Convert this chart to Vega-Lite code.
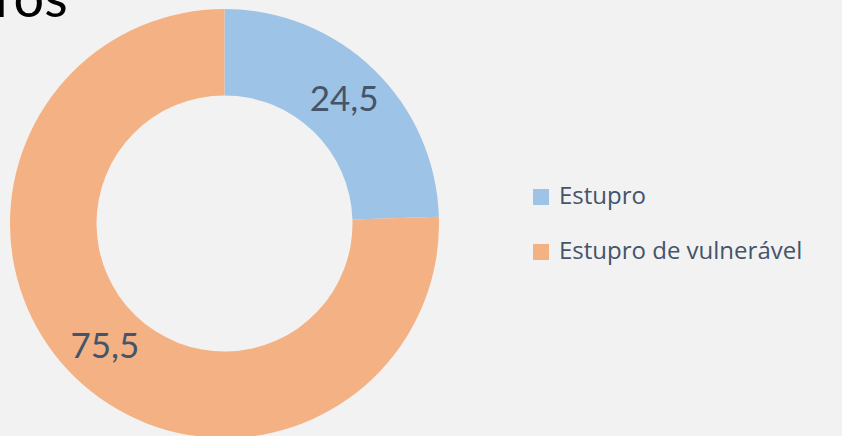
{
  "$schema": "https://vega.github.io/schema/vega-lite/v6.json",
  "width": 449,
  "height": 447,
  "autosize": {"type": "none"},
  "padding": {"left": 0, "top": 0, "right": 393, "bottom": 0},
  "background": "#f2f2f2",
  "view": {"stroke": null},
  "title": {
    "text": "ros",
    "anchor": "start",
    "frame": "group",
    "orient": "top",
    "offset": 0,
    "dy": 28,
    "dx": -5,
    "fontSize": 54,
    "font": "Lato",
    "fontWeight": "normal",
    "color": "#000000"
  },
  "data": {
    "values": [
      {"tipo": "Estupro", "valor": 24.5, "rotulo": "24,5"},
      {"tipo": "Estupro de vulnerável", "valor": 75.5, "rotulo": "75,5"}
    ]
  },
  "encoding": {
    "theta": {"field": "valor", "type": "quantitative", "stack": true},
    "order": {"field": "valor", "type": "quantitative", "sort": "ascending"}
  },
  "layer": [
    {
      "mark": {"type": "arc", "radius": 214.5, "radius2": 128},
      "encoding": {
        "color": {
          "field": "tipo",
          "type": "nominal",
          "scale": {"domain": ["Estupro", "Estupro de vulnerável"], "range": ["#9dc3e6", "#f4b183"]},
          "legend": {
            "title": null,
            "orient": "none",
            "legendX": 529,
            "legendY": 185,
            "symbolType": "square",
            "symbolSize": 256,
            "symbolStrokeWidth": 0,
            "labelFont": "Open Sans",
            "labelFontSize": 24,
            "labelColor": "#44546a",
            "labelOffset": 6,
            "rowPadding": 31,
            "labelLimit": 400
          }
        }
      }
    },
    {
      "mark": {"type": "text", "radius": 172, "font": "Lato", "fontSize": 35, "color": "#44546a"},
      "encoding": {"text": {"field": "rotulo", "type": "nominal"}}
    }
  ]
}
